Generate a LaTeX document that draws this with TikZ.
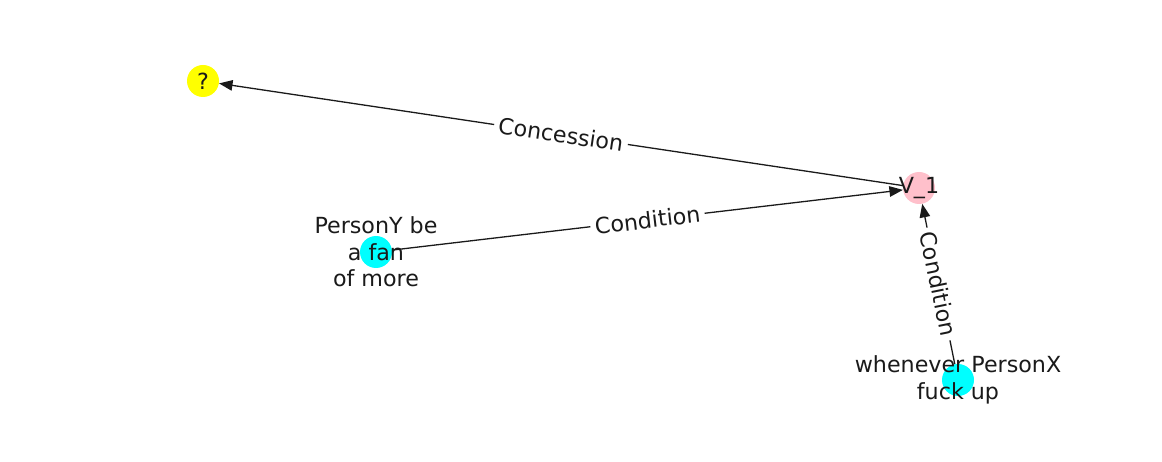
\documentclass[tikz,border=0pt]{standalone}
\usepackage{fontspec}
\setmainfont{DejaVu Sans}
\usetikzlibrary{arrows.meta}
\definecolor{vyellow}{HTML}{FFFF00}
\definecolor{vpink}{HTML}{FFC0CB}
\definecolor{vcyan}{HTML}{00FFFF}
\definecolor{ink}{HTML}{1A1A1A}
\begin{document}
\begin{tikzpicture}[x=1pt,y=-1pt,
  vertex/.style={circle,minimum size=32pt,inner sep=0pt,draw=none},
  vtext/.style={align=center,inner sep=0pt,font=\fontsize{22.2}{26.5}\selectfont,text=ink},
  link/.style={line width=1.3pt,draw=ink,-{Triangle[length=13.5pt,width=10.5pt]}},
  linklabel/.style={fill=white,inner sep=4.5pt,font=\fontsize{22.2}{26.5}\selectfont,text=ink}]
  \useasboundingbox (0,0) rectangle (1162,462);

  % vertices
  \node[vertex,fill=vyellow] (q)  at (203,81)  {};
  \node[vertex,fill=vpink]   (v1) at (919,188) {};
  \node[vertex,fill=vcyan]   (py) at (376,252) {};
  \node[vertex,fill=vcyan]   (px) at (958,380) {};

  % relations
  \draw[link] (v1) -- node[linklabel,midway,sloped] (lc) {Concession} (q);
  \draw[link] (py) -- node[linklabel,midway,sloped] (lpy) {Condition} (v1);
  \draw[link] (px) -- node[linklabel,midway,sloped] (lpx) {Condition} (v1);

  % vertex texts
  \node[vtext] (tq)  at (q)  {?};
  \node[vtext] (tv1) at (v1) {V\_1};
  \node[vtext] (tpy) at (py) {PersonY be\\a fan\\of more};
  \node[vtext] (tpx) at (px) {whenever PersonX\\fuck up};
\end{tikzpicture}
\end{document}
